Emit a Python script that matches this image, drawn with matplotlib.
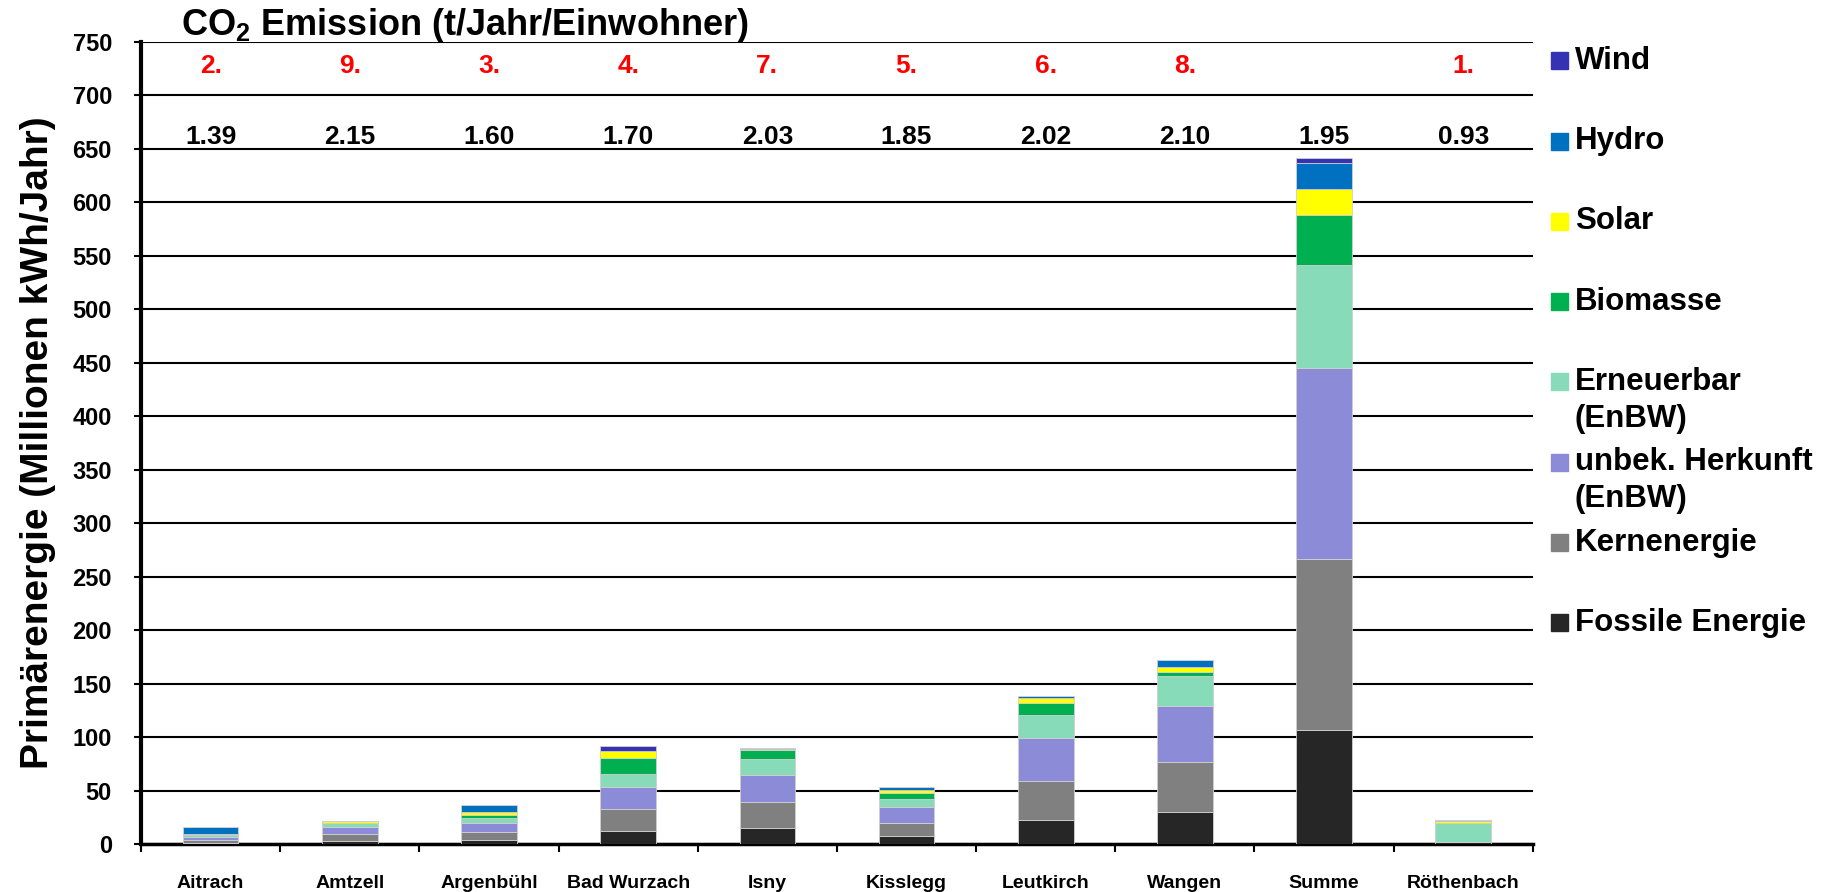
import matplotlib
matplotlib.use("Agg")
import matplotlib.pyplot as plt
from matplotlib.patches import Rectangle
from matplotlib.ticker import MultipleLocator, FixedLocator

plt.rcParams['font.family'] = ['Liberation Sans', 'DejaVu Sans']
plt.rcParams['font.weight'] = 'bold'
plt.rcParams['mathtext.fontset'] = 'custom'
plt.rcParams['mathtext.rm'] = 'Liberation Sans:bold'
plt.rcParams['mathtext.bf'] = 'Liberation Sans:bold'

# ---------- Data (Millionen kWh/Jahr) ----------
gemeinden = ["Aitrach", "Amtzell", "Argenbühl", "Bad Wurzach", "Isny",
             "Kisslegg", "Leutkirch", "Wangen", "Summe", "Röthenbach"]

fossil = [1.5, 3.4, 4.4, 12.8, 15.6, 8.1, 23.0, 30.2, 106.5, 2.5]
kern = [2.8, 6.5, 7.5, 19.9, 23.7, 12.1, 36.1, 46.7, 160.5, 0.0]
unbekannt = [2.8, 6.5, 8.1, 21.2, 25.9, 14.6, 40.2, 52.3, 178.0, 0.0]
erneuerbar = [1.9, 3.4, 4.4, 12.1, 14.6, 7.8, 21.2, 28.3, 96.0, 17.8]
biomasse = [0.3, 0.5, 3.1, 15.0, 8.1, 5.0, 11.5, 3.4, 47.0, 0.0]
solar = [0.3, 1.2, 2.8, 6.2, 0.9, 3.4, 4.7, 4.4, 24.4, 1.6]
hydro = [6.5, 0.0, 6.5, 0.0, 1.2, 2.8, 1.6, 6.9, 24.6, 0.9]
wind = [0.0, 0.0, 0.0, 4.7, 0.2, 0.0, 0.0, 0.0, 4.4, 0.0]

co2 = ["1.39", "2.15", "1.60", "1.70", "2.03", "1.85", "2.02", "2.10", "1.95", "0.93"]
rang = ["2.", "9.", "3.", "4.", "7.", "5.", "6.", "8.", "", "1."]

# stacking order bottom -> top
series = [
    (fossil, ["Fossile Energie"], "#262626"),
    (kern, ["Kernenergie"], "#808080"),
    (unbekannt, ["unbek. Herkunft", "(EnBW)"], "#8B8BD8"),
    (erneuerbar, ["Erneuerbar", "(EnBW)"], "#88DBB8"),
    (biomasse, ["Biomasse"], "#00B050"),
    (solar, ["Solar"], "#FFFF00"),
    (hydro, ["Hydro"], "#0070C0"),
    (wind, ["Wind"], "#3333B3"),
]

# ---------- Plot ----------
fig = plt.figure(figsize=(18.32, 8.92), dpi=100)
ax = fig.add_axes([0.077, 0.0535, 0.7597, 0.8998])

x = list(range(len(gemeinden)))
bottom = [0.0] * len(gemeinden)
for vals, label, col in series:
    ax.bar(x, vals, width=0.4, bottom=bottom, color=col,
           edgecolor="#cfcfcf", linewidth=0.6, zorder=3)
    bottom = [b + v for b, v in zip(bottom, vals)]

ax.set_xlim(-0.5, len(gemeinden) - 0.5)
ax.set_ylim(0, 750)
ax.yaxis.set_major_locator(MultipleLocator(50))
ax.yaxis.grid(True, color="black", linewidth=1.5, zorder=1)
ax.set_axisbelow(True)

ax.set_xticks(x)
ax.set_xticklabels(gemeinden, fontsize=14, fontweight="bold")
ax.xaxis.set_minor_locator(FixedLocator([i - 0.5 for i in range(len(gemeinden) + 1)]))
ax.tick_params(axis="x", which="major", length=0, pad=22)
ax.tick_params(axis="x", which="minor", length=6, width=1.5, direction="out")
ax.tick_params(axis="y", length=5, width=1.5, direction="out", pad=16, labelsize=17)
for lbl in ax.get_yticklabels():
    lbl.set_fontweight("bold")

for s in ["top", "right"]:
    ax.spines[s].set_visible(False)
ax.spines["left"].set_linewidth(3)
ax.spines["bottom"].set_linewidth(2.5)

ax.set_ylabel("Primärenergie (Millionen kWh/Jahr)", fontsize=28,
              fontweight="bold", labelpad=12)

# CO2 values and ranks above the bars
for i in x:
    ax.text(i, 661, co2[i], ha="center", va="center", fontsize=19,
            fontweight="bold", color="black", zorder=5)
    if rang[i]:
        ax.text(i, 727, rang[i], ha="center", va="center", fontsize=19,
                fontweight="bold", color="red", zorder=5)

fig.text(0.0988, 0.961, r"CO$_2$ Emission (t/Jahr/Einwohner)", fontsize=26,
         fontweight="bold", ha="left", va="baseline")

# ---------- Legend (manual, top entry first) ----------
W, H = 1832, 892
y0 = 60.7
step = 80.3
for k, (vals, label, col) in enumerate(reversed(series)):
    yc = y0 + step * k
    fig.add_artist(Rectangle((1551 / W, 1 - (yc + 8.5) / H), 17 / W, 17 / H,
                             transform=fig.transFigure, color=col))
    for j, line in enumerate(label):
        fig.text(1575 / W, 1 - (yc + 37 * j) / H, line, fontsize=22.5,
                 fontweight="bold", ha="left", va="center")

fig.savefig("out.png", dpi=100)
